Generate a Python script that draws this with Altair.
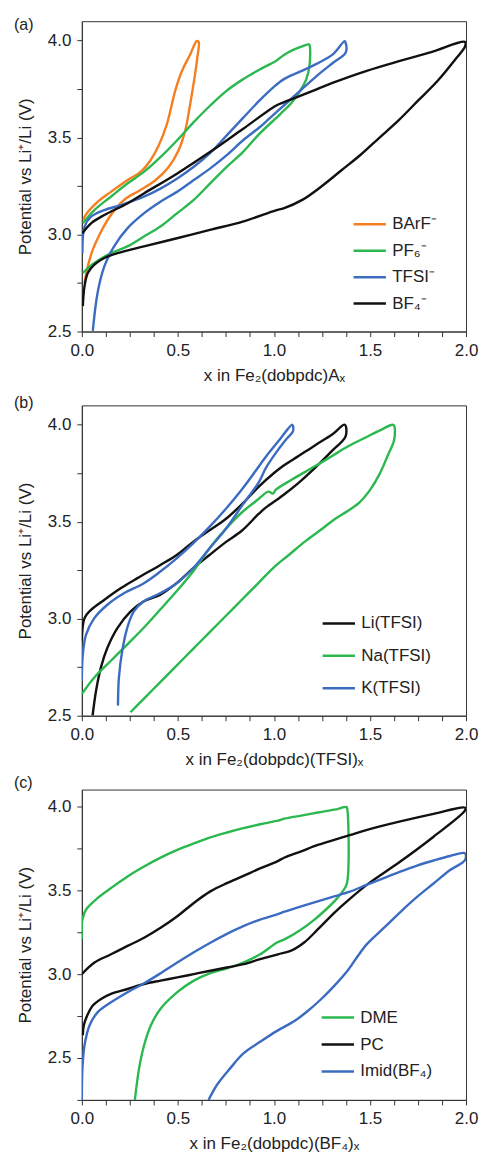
import altair as alt
import pandas as pd

FONT = "Liberation Sans"
ORANGE = "#F47F20"
GREEN = "#2BB84F"
BLUE = "#3C6CC2"
BLACK = "#111111"

x_ticks = [0, 0.125, 0.25, 0.375, 0.5, 0.625, 0.75, 0.875, 1.0, 1.125, 1.25, 1.375, 1.5, 1.625, 1.75, 1.875, 2.0]
y_ticks_ab = [2.5, 2.75, 3.0, 3.25, 3.5, 3.75, 4.0]
y_ticks_c = [2.25, 2.5, 2.75, 3.0, 3.25, 3.5, 3.75, 4.0]

# ---------------- panel (a) ----------------
a_names = ["BArF⁻", "PF₆⁻", "TFSI⁻", "BF₄⁻"]
a_colors = [ORANGE, GREEN, BLUE, BLACK]

a_barf_x = [0.010, 0.014, 0.082, 0.151, 0.237, 0.306, 0.357, 0.400, 0.443, 0.486, 0.521, 0.564, 0.598,
            0.608, 0.601, 0.584, 0.564, 0.538, 0.503, 0.452, 0.383, 0.297, 0.229, 0.177, 0.134, 0.091, 0.057, 0.031, 0.014]
a_barf_y = [3.075, 3.092, 3.169, 3.220, 3.280, 3.323, 3.382, 3.459, 3.570, 3.741, 3.843, 3.928, 3.997,
            3.993, 3.911, 3.792, 3.672, 3.536, 3.433, 3.348, 3.280, 3.225, 3.186, 3.135, 3.075, 2.998, 2.922, 2.836, 2.751]

a_pf6_x = [0.005, 0.065, 0.151, 0.237, 0.323, 0.409, 0.495, 0.581, 0.667, 0.753, 0.838, 0.924, 1.010, 1.050, 1.100, 1.150, 1.182,
           1.186, 1.186, 1.168, 1.136, 1.093, 1.033, 0.924, 0.838, 0.753, 0.667, 0.581, 0.495, 0.409, 0.323, 0.237, 0.151, 0.065, 0.005]
a_pf6_y = [3.058, 3.126, 3.195, 3.263, 3.323, 3.399, 3.485, 3.578, 3.664, 3.741, 3.800, 3.850, 3.895, 3.925, 3.952, 3.972, 3.980,
           3.975, 3.877, 3.800, 3.741, 3.681, 3.621, 3.519, 3.425, 3.348, 3.263, 3.177, 3.109, 3.041, 2.990, 2.939, 2.904, 2.853, 2.802]

a_tfsi_x = [0.003, 0.014, 0.048, 0.117, 0.203, 0.323, 0.409, 0.495, 0.581, 0.667, 0.753, 0.838, 0.924, 1.010, 1.050, 1.136, 1.222, 1.308, 1.368,
            1.373, 1.373, 1.308, 1.222, 1.136, 1.050, 0.964, 0.924, 0.838, 0.753, 0.667, 0.581, 0.495, 0.409, 0.323, 0.237, 0.168, 0.117, 0.082, 0.057]
a_tfsi_y = [2.904, 3.041, 3.092, 3.126, 3.152, 3.195, 3.237, 3.288, 3.348, 3.420, 3.510, 3.600, 3.690, 3.770, 3.800, 3.840, 3.880, 3.930, 3.997,
            3.990, 3.937, 3.886, 3.817, 3.741, 3.664, 3.587, 3.552, 3.485, 3.408, 3.340, 3.280, 3.220, 3.169, 3.109, 3.032, 2.939, 2.836, 2.700, 2.503]

a_bf4_x = [0.003, 0.048, 0.117, 0.237, 0.323, 0.495, 0.667, 0.838, 1.010, 1.050, 1.136, 1.222, 1.308, 1.479, 1.651, 1.823, 1.995,
           1.995, 1.95, 1.85, 1.75, 1.65, 1.55, 1.45, 1.35, 1.25, 1.15, 1.05, 1.010, 0.838, 0.667, 0.495, 0.323, 0.186, 0.117, 0.065, 0.031, 0.014, 0.005]
a_bf4_y = [3.007, 3.058, 3.101, 3.160, 3.212, 3.314, 3.425, 3.544, 3.664, 3.681, 3.715, 3.749, 3.783, 3.843, 3.894, 3.942, 3.993,
           3.970, 3.910, 3.790, 3.690, 3.590, 3.500, 3.410, 3.330, 3.250, 3.180, 3.135, 3.125, 3.067, 3.024, 2.981, 2.939, 2.904, 2.879, 2.845, 2.802, 2.734, 2.631]

# ---------------- panel (b) ----------------
b_names = ["Li(TFSI)", "Na(TFSI)", "K(TFSI)"]
b_colors = [BLACK, GREEN, BLUE]

b_li_x = [0.0, 0.014, 0.048, 0.116, 0.202, 0.287, 0.407, 0.492, 0.578, 0.663, 0.749, 0.834, 0.920, 1.005, 1.044, 1.130, 1.215, 1.301, 1.369,
          1.373, 1.301, 1.215, 1.130, 1.044, 0.959, 0.920, 0.834, 0.749, 0.663, 0.578, 0.492, 0.407, 0.321, 0.253, 0.185, 0.133, 0.099, 0.074, 0.056]
b_li_y = [2.884, 3.003, 3.046, 3.097, 3.157, 3.208, 3.276, 3.327, 3.395, 3.455, 3.514, 3.591, 3.680, 3.755, 3.785, 3.840, 3.895, 3.948, 4.0,
          3.940, 3.864, 3.779, 3.702, 3.634, 3.574, 3.540, 3.455, 3.395, 3.327, 3.259, 3.182, 3.123, 3.089, 3.037, 2.952, 2.850, 2.748, 2.629, 2.501]

b_na_x = [0.0, 0.065, 0.150, 0.236, 0.321, 0.407, 0.492, 0.578, 0.663, 0.749, 0.834, 0.920, 0.971, 0.995, 1.010, 1.096, 1.215, 1.301, 1.386, 1.472, 1.557, 1.617,
          1.626, 1.626, 1.591, 1.549, 1.497, 1.446, 1.386, 1.318, 1.250, 1.164, 1.079, 1.005, 0.920, 0.834, 0.749, 0.663, 0.578, 0.492, 0.407, 0.321, 0.253]
b_na_y = [2.612, 2.697, 2.782, 2.867, 2.952, 3.046, 3.140, 3.242, 3.361, 3.463, 3.549, 3.617, 3.655, 3.645, 3.665, 3.719, 3.787, 3.838, 3.889, 3.932, 3.974, 4.0,
          3.995, 3.923, 3.838, 3.744, 3.659, 3.600, 3.557, 3.514, 3.463, 3.400, 3.330, 3.270, 3.185, 3.099, 3.014, 2.928, 2.843, 2.757, 2.672, 2.586, 2.518]

b_k_x = [0.0, 0.005, 0.022, 0.065, 0.133, 0.219, 0.321, 0.407, 0.492, 0.578, 0.663, 0.749, 0.834, 0.903, 0.954, 1.027, 1.096,
         1.099, 1.062, 1.010, 0.959, 0.920, 0.834, 0.749, 0.663, 0.578, 0.492, 0.407, 0.321, 0.270, 0.236, 0.210, 0.193, 0.188]
b_k_y = [2.680, 2.816, 2.918, 3.003, 3.072, 3.131, 3.182, 3.242, 3.310, 3.387, 3.472, 3.566, 3.668, 3.760, 3.830, 3.920, 4.0,
         3.966, 3.923, 3.855, 3.779, 3.702, 3.583, 3.463, 3.361, 3.259, 3.182, 3.131, 3.089, 3.037, 2.952, 2.833, 2.697, 2.552]

# ---------------- panel (c) ----------------
c_names = ["DME", "PC", "Imid(BF₄)"]
c_colors = [GREEN, BLACK, BLUE]

c_dme_x = [0.0, 0.003, 0.022, 0.083, 0.152, 0.238, 0.324, 0.410, 0.497, 0.583, 0.669, 0.755, 0.841, 0.928, 1.014, 1.055, 1.142, 1.228, 1.314, 1.377,
           1.380, 1.380, 1.358, 1.323, 1.271, 1.211, 1.142, 1.055, 1.014, 0.928, 0.841, 0.755, 0.669, 0.583, 0.497, 0.410, 0.359, 0.324, 0.298, 0.276]
c_dme_y = [3.207, 3.325, 3.385, 3.454, 3.513, 3.582, 3.641, 3.694, 3.740, 3.779, 3.815, 3.844, 3.870, 3.893, 3.913, 3.927, 3.945, 3.963, 3.980, 3.996,
           3.992, 3.542, 3.493, 3.444, 3.385, 3.325, 3.266, 3.207, 3.187, 3.118, 3.069, 3.034, 3.006, 2.961, 2.892, 2.793, 2.694, 2.576, 2.438, 2.250]

c_pc_x = [0.0, 0.066, 0.152, 0.238, 0.324, 0.410, 0.497, 0.583, 0.669, 0.755, 0.841, 0.928, 1.014, 1.055, 1.142, 1.228, 1.314, 1.399, 1.485, 1.658, 1.831, 1.995,
          1.995, 1.831, 1.658, 1.495, 1.401, 1.314, 1.228, 1.159, 1.090, 1.021, 0.928, 0.841, 0.755, 0.669, 0.583, 0.497, 0.410, 0.324, 0.238, 0.152, 0.100, 0.057, 0.028, 0.010, 0.005]
c_pc_y = [3.0, 3.069, 3.118, 3.168, 3.217, 3.276, 3.345, 3.424, 3.493, 3.542, 3.585, 3.630, 3.670, 3.695, 3.732, 3.770, 3.800, 3.830, 3.860, 3.910, 3.955, 3.992,
          3.976, 3.819, 3.671, 3.542, 3.454, 3.365, 3.266, 3.190, 3.140, 3.118, 3.089, 3.059, 3.039, 3.020, 3.000, 2.980, 2.961, 2.941, 2.911, 2.882, 2.852, 2.813, 2.753, 2.694, 2.635]

c_imid_x = [0.0, 0.003, 0.014, 0.040, 0.083, 0.152, 0.238, 0.324, 0.410, 0.497, 0.583, 0.669, 0.755, 0.841, 0.928, 1.014, 1.055, 1.142, 1.228, 1.314, 1.399, 1.485, 1.572, 1.658, 1.745, 1.831, 1.917, 1.995,
            1.995, 1.917, 1.831, 1.745, 1.658, 1.572, 1.485, 1.435, 1.383, 1.314, 1.245, 1.176, 1.107, 1.014, 0.928, 0.841, 0.772, 0.703, 0.660]
c_imid_y = [2.250, 2.438, 2.576, 2.694, 2.773, 2.832, 2.892, 2.945, 3.005, 3.069, 3.130, 3.187, 3.240, 3.286, 3.325, 3.355, 3.372, 3.404, 3.434, 3.463, 3.493, 3.533, 3.572, 3.611, 3.647, 3.677, 3.704, 3.720,
            3.680, 3.620, 3.540, 3.460, 3.370, 3.275, 3.180, 3.105, 3.020, 2.930, 2.850, 2.780, 2.720, 2.660, 2.596, 2.527, 2.438, 2.339, 2.250]


def frame(series):
    rows = []
    for name, xs, ys in series:
        for i, (xv, yv) in enumerate(zip(xs, ys)):
            rows.append({"series": name, "i": i, "x": xv, "y": yv})
    return pd.DataFrame(rows)


LABEL_EXPR = "datum.value % 0.5 == 0 ? format(datum.value, '.1f') : ''"
W = 385
H = 311


def panel(df, names, colors, xtitle, ydomain, yticks, tag, tag_y, lx, ly, rowpad):
    lines = alt.Chart(df).mark_line(strokeWidth=2.4, interpolate="catmull-rom", clip=True).encode(
        x=alt.X("x:Q", scale=alt.Scale(domain=[0, 2], nice=False, zero=False),
                axis=alt.Axis(values=x_ticks, labelExpr=LABEL_EXPR, title=xtitle,
                              labelFlush=False, labelOverlap=False, titlePadding=9)),
        y=alt.Y("y:Q", scale=alt.Scale(domain=ydomain, nice=False, zero=False),
                axis=alt.Axis(values=yticks, labelExpr=LABEL_EXPR, title="Potential vs Li⁺/Li (V)",
                              labelOverlap=False, titlePadding=13)),
        color=alt.Color("series:N", scale=alt.Scale(domain=names, range=colors),
                        legend=alt.Legend(title=None, orient="none", legendX=lx, legendY=ly,
                                          symbolType="stroke", symbolSize=1050, symbolStrokeWidth=2.5,
                                          labelFont=FONT, labelFontSize=17, labelColor="#222",
                                          labelOffset=5, rowPadding=rowpad, padding=0)),
        order=alt.Order("i:Q"),
    )
    tag_chart = alt.Chart(pd.DataFrame({"t": [tag]})).mark_text(
        align="left", baseline="middle", fontSize=16, font=FONT, color="#222"
    ).encode(x=alt.value(-68), y=alt.value(tag_y), text="t:N")
    return alt.layer(lines, tag_chart).properties(width=W, height=H)


pa = panel(frame([(a_names[0], a_barf_x, a_barf_y), (a_names[1], a_pf6_x, a_pf6_y),
                  (a_names[2], a_tfsi_x, a_tfsi_y), (a_names[3], a_bf4_x, a_bf4_y)]),
           a_names, a_colors, "x in Fe₂(dobpdc)Aₓ", [2.5, 4.1], y_ticks_ab, "(a)", 4, 271, 186, 0.5)
pb = panel(frame([(b_names[0], b_li_x, b_li_y), (b_names[1], b_na_x, b_na_y), (b_names[2], b_k_x, b_k_y)]),
           b_names, b_colors, "x in Fe₂(dobpdc)(TFSI)ₓ", [2.5, 4.1], y_ticks_ab, "(b)", -2, 240, 201, 6.5)
pc = panel(frame([(c_names[0], c_dme_x, c_dme_y), (c_names[1], c_pc_x, c_pc_y), (c_names[2], c_imid_x, c_imid_y)]),
           c_names, c_colors, "x in Fe₂(dobpdc)(BF₄)ₓ", [2.25, 4.1], y_ticks_c, "(c)", -7, 239, 211, 1)

chart = alt.vconcat(pa, pb, pc, spacing=74, bounds="flush").resolve_scale(color="independent").properties(
    padding={"left": 5, "top": 7, "right": 0, "bottom": 0}
).configure_view(stroke="#333", strokeWidth=1).configure_axis(
    labelFont=FONT, labelFontSize=17, labelColor="#222", titleFont=FONT, titleFontSize=17,
    titleFontWeight="normal", titleColor="#222", domainColor="#333", tickColor="#333",
    tickSize=5, labelPadding=6, grid=False
)

chart.save("out.html", embed_options={"renderer": "svg", "actions": False})
